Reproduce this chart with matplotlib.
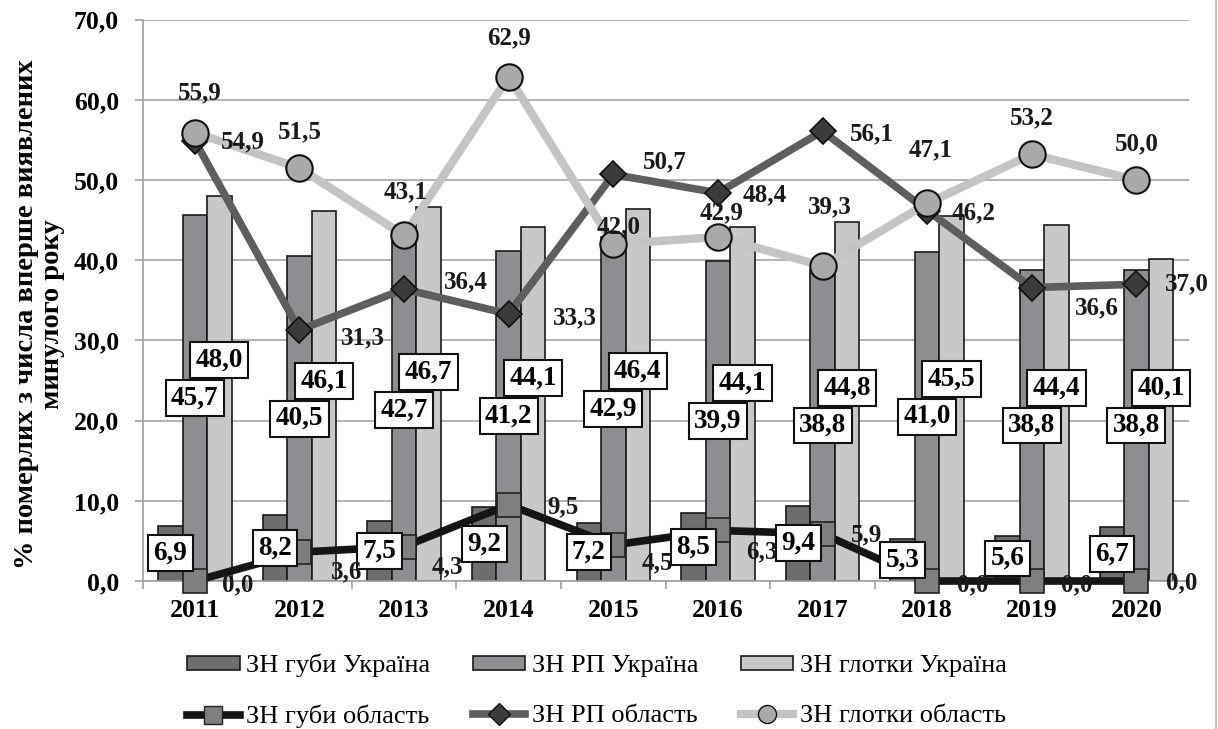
import numpy as np
import matplotlib.pyplot as plt
from matplotlib.lines import Line2D

plt.rcParams['font.family'] = ['Liberation Serif', 'DejaVu Serif']

years = ['2011', '2012', '2013', '2014', '2015', '2016', '2017', '2018', '2019', '2020']

# Україна (стовпці)
lip_ua = [6.9, 8.2, 7.5, 9.2, 7.2, 8.5, 9.4, 5.3, 5.6, 6.7]
rp_ua = [45.7, 40.5, 42.7, 41.2, 42.9, 39.9, 38.8, 41.0, 38.8, 38.8]
phar_ua = [48.0, 46.1, 46.7, 44.1, 46.4, 44.1, 44.8, 45.5, 44.4, 40.1]

# область (лінії)
lip_obl = [0.0, 3.6, 4.3, 9.5, 4.5, 6.3, 5.9, 0.0, 0.0, 0.0]
rp_obl = [54.9, 31.3, 36.4, 33.3, 50.7, 48.4, 56.1, 46.2, 36.6, 37.0]
phar_obl = [55.9, 51.5, 43.1, 62.9, 42.0, 42.9, 39.3, 47.1, 53.2, 50.0]

# зсуви підписів ліній, px (dx, dy)
lip_off = [(43, -4), (47, -20), (43, -20), (54, -2), (44, -18),
           (44, -21), (44, -1), (45, -4), (45, -4), (45, -2)]
rp_off = [(48, -1), (63, -8), (62, 7), (66, -4), (51, 13),
          (47, -2), (49, -3), (46, -2), (65, -20), (50, 0)]
phar_off = [(5, 40), (0, 36), (2, 44), (0, 39), (5, 17),
            (4, 24), (7, 59), (3, 54), (0, 37), (0, 36)]

def fmt(v):
    return f'{v:.1f}'.replace('.', ',')

c_lip = '#6e6e6e'
c_rp = '#8e8e92'
c_phar = '#c8c8cb'

fig = plt.figure(figsize=(12.18, 7.29), dpi=100)
ax = fig.add_axes([0.117, 0.203, 0.859, 0.770])

x = np.arange(len(years))
w = 0.234

ax.bar(x - w, lip_ua, w, color=c_lip, edgecolor='#1a1a1a', linewidth=1.2, zorder=2)
ax.bar(x, rp_ua, w, color=c_rp, edgecolor='#1a1a1a', linewidth=1.2, zorder=2)
ax.bar(x + w, phar_ua, w, color=c_phar, edgecolor='#1a1a1a', linewidth=1.2, zorder=2)

ax.plot(x, lip_obl, color='#151515', lw=5.5, marker='s', ms=17,
        mfc='#7f7f7f', mec='#222222', mew=1.2, zorder=3, clip_on=False)
ax.plot(x, rp_obl, color='#5e5e5e', lw=5.5, marker='D', ms=13,
        mfc='#3c3c3c', mec='#111111', mew=1.2, zorder=4, clip_on=False)
ax.plot(x, phar_obl, color='#c4c4c4', lw=6, marker='o', ms=19,
        mfc='#a9a9a9', mec='#111111', mew=1.5, zorder=5, clip_on=False)

# підписи стовпців у рамках; рамка глотки стоїть над рамкою РП
box = dict(boxstyle='square,pad=0.2', fc='white', ec='#111111', lw=1.5)
for i in range(len(years)):
    ax.text(x[i] - w, lip_ua[i] / 2, fmt(lip_ua[i]), ha='center', va='center',
            fontsize=19.5, fontweight='bold', bbox=box, zorder=6)
    ax.text(x[i], rp_ua[i] / 2, fmt(rp_ua[i]), ha='center', va='center',
            fontsize=19.5, fontweight='bold', bbox=box, zorder=6)
    ax.text(x[i] + w, rp_ua[i] / 2 + 4.7, fmt(phar_ua[i]), ha='center', va='center',
            fontsize=19.5, fontweight='bold', bbox=box, zorder=6)

for vals, offs in [(lip_obl, lip_off), (rp_obl, rp_off), (phar_obl, phar_off)]:
    for i, v in enumerate(vals):
        dx, dy = offs[i]
        ax.annotate(fmt(v), (x[i], v), xytext=(dx * 0.72, dy * 0.72),
                    textcoords='offset points', ha='center', va='center',
                    fontsize=18, fontweight='bold', color='#1a1a1a', zorder=7)

ax.set_xlim(-0.5, len(years) - 0.5)
ax.set_ylim(0, 70)
ax.set_yticks(np.arange(0, 71, 10))
ax.set_yticklabels([fmt(v) for v in np.arange(0, 71, 10)], fontsize=18.5, fontweight='bold')
ax.set_xticks(x)
ax.set_xticklabels(years, fontsize=18.5, fontweight='bold')
ax.set_xticks(np.arange(-0.5, len(years), 1), minor=True)
ax.tick_params(axis='x', which='major', length=0, pad=13)
ax.tick_params(axis='x', which='minor', length=6, color='#a0a0a0', width=1.2)
ax.tick_params(axis='y', length=6, color='#a0a0a0', width=1.2, pad=11)

ax.grid(axis='y', color='#a6a6a6', lw=1.2, zorder=0)
ax.set_axisbelow(True)
for s in ['top', 'right']:
    ax.spines[s].set_visible(False)
for s in ['left', 'bottom']:
    ax.spines[s].set_color('#a0a0a0')
    ax.spines[s].set_linewidth(1.2)

ax.set_ylabel('% померлих з числа вперше виявлених\nминулого року',
              fontsize=20.5, fontweight='bold', linespacing=1.05)
ax.yaxis.set_label_coords(-0.074, 0.476)

handles = [
    plt.Rectangle((0, 0), 1, 1, fc=c_lip, ec='#1a1a1a', lw=1.2),
    Line2D([], [], color='#151515', lw=5.5, marker='s', ms=13, mfc='#7f7f7f', mec='#222222'),
    plt.Rectangle((0, 0), 1, 1, fc=c_rp, ec='#1a1a1a', lw=1.2),
    Line2D([], [], color='#5e5e5e', lw=5.5, marker='D', ms=11, mfc='#3c3c3c', mec='#111111'),
    plt.Rectangle((0, 0), 1, 1, fc=c_phar, ec='#1a1a1a', lw=1.2),
    Line2D([], [], color='#c4c4c4', lw=6, marker='o', ms=13, mfc='#a9a9a9', mec='#111111'),
]
labels = ['ЗН губи Україна', 'ЗН губи область',
          'ЗН РП Україна', 'ЗН РП область',
          'ЗН глотки Україна', 'ЗН глотки область']
fig.legend(handles, labels, ncol=3, loc='center', bbox_to_anchor=(0.49, 0.052),
           frameon=False, fontsize=19, handlelength=2.0, handleheight=0.45,
           handletextpad=0.25, columnspacing=1.6, labelspacing=1.05)

fig.add_artist(Line2D([0.998, 0.998], [0.0, 1.0], color='#b8b8b8', lw=1.2))

fig.savefig('out.png', dpi=100)
